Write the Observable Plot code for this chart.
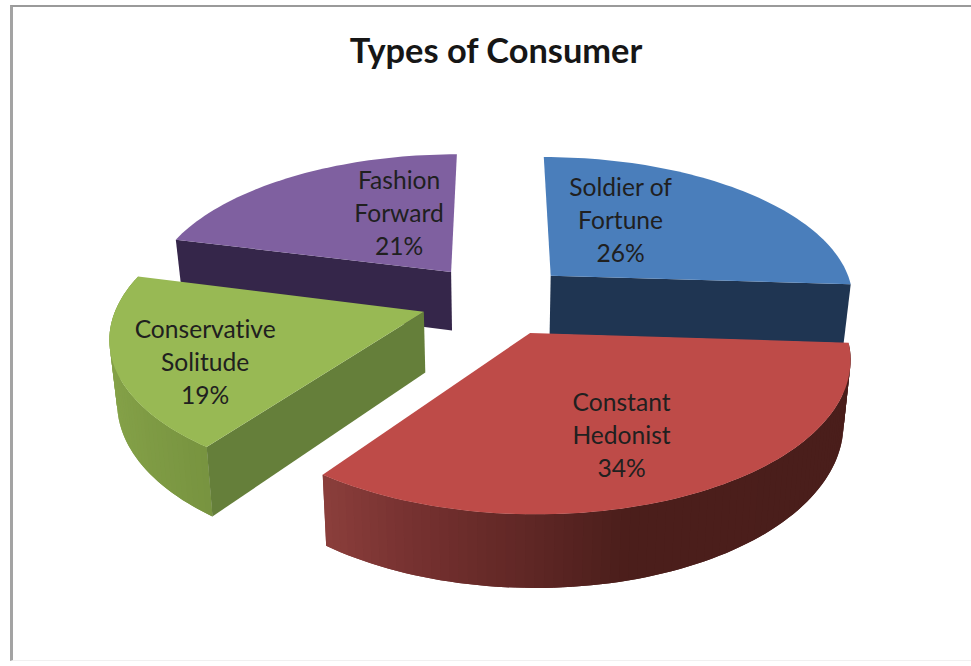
<!DOCTYPE html>
<html>
<head>
<meta charset="utf-8">
<script src="https://cdn.jsdelivr.net/npm/d3@7"></script>
<script src="https://cdn.jsdelivr.net/npm/@observablehq/plot@0.6"></script>
<style>
  html, body { margin: 0; padding: 0; background: #fff; overflow: hidden; }
  #page { position: relative; width: 971px; height: 666px; font-variant-ligatures: none; }
  #frame { position: absolute; left: 10px; top: 5px; right: 0; bottom: 5px;
           border-left: 3px solid #a3a3a3; border-top: 2px solid #9a9a9a; border-bottom: 1px solid #f0f0f0; }
  h1 { position: relative; margin: 0; height: 80px; padding-left: 21px; box-sizing: border-box; text-align: center;
       font: bold 34.4px/100px Lato, sans-serif; color: #161616; }
  #chart { position: relative; }
  #chart svg { display: block; font-variant-ligatures: none; }
</style>
</head>
<body>
<div id="page">
  <div id="frame"></div>
  <h1>Types of Consumer</h1>
  <div id="chart"></div>
</div>
<script>
// Share of each consumer type, in percent, clockwise from twelve o'clock.
const categories = ["Soldier of\nFortune", "Constant\nHedonist", "Conservative\nSolitude", "Fashion\nForward"];
const shares = [26, 34, 19, 21];

// Flat tops and cut faces of the wedges.
const topColors = ["#4a7ebb", "#be4b48", "#98b954", "#7f60a0"];
const faceColors = ["#1f3552", "#4b1e1b", "#657f3a", "#35264a"];

// Camera and pie proportions: plane units map to pixels through the x and y scales.
const W = 971, H = 586, headerHeight = 80;
const centerX = 496, centerY = 299 - headerHeight;
const radiusX = 305, radiusY = 143;
const perspective = 0.15, explode = 0.25, depth = 0.42, taper = 0.02;

// Where each label sits inside its wedge: fraction of the radius and bearing in degrees.
const labelPlaces = [[0.508, 31], [0.652, 157.2], [0.737, 243.8], [0.507, 337]];

const rad = d => d * Math.PI / 180;
const dir = a => [Math.sin(rad(a)), -Math.cos(rad(a))];

// Project a point of the pie plane (u, v toward the viewer) at level z (0 top, 1 bottom).
function project(u, v, z = 0) {
  const s = 1 / (1 - perspective * v);
  return {px: u * s * (1 - taper * z), py: (v + depth * z) * s};
}

// Lay the wedges out around the circle.
let running = 0;
const wedges = shares.map((share, i) => {
  const a0 = running * 3.6;
  running += share;
  const a1 = running * 3.6;
  const [mu, mv] = dir((a0 + a1) / 2);
  return {i, a0, a1, ou: mu * explode, ov: mv * explode};
});

const rim = (w, a, z) => {
  const [u, v] = dir(a);
  return project(w.ou + u, w.ov + v, z);
};
const arcAngles = (a0, a1, step = 1.5) => {
  const n = Math.max(1, Math.round(Math.abs(a1 - a0) / step));
  return d3.range(n + 1).map(k => a0 + (a1 - a0) * k / n);
};

const facets = [];
const addFacet = (id, color, points) => points.forEach(p => facets.push({...p, id, color}));

// A radial cut face running from the apex to the rim.
function cutFace(w, a) {
  addFacet(`cut-${w.i}`, faceColors[w.i], [
    project(w.ou, w.ov, 0), rim(w, a, 0), rim(w, a, 1), project(w.ou, w.ov, 1)
  ]);
}

// The curved outer wall, drawn as strips shaded across the width of the pie.
// Each strip reaches under the next one so that no seam shows between them.
function wall(w, a0, a1, shade) {
  const angles = arcAngles(a0, a1);
  d3.pairs(angles).forEach(([p, q], k) => {
    const far = angles[Math.min(k + 2, angles.length - 1)];
    addFacet(`wall-${w.i}-${k}`, shade(Math.sin(rad((p + q) / 2))), [
      rim(w, p, 0), rim(w, q, 0), rim(w, far, 0), rim(w, far, 1), rim(w, q, 1), rim(w, p, 1)
    ]);
  });
}

function topFace(w) {
  addFacet(`top-${w.i}`, topColors[w.i], [
    project(w.ou, w.ov, 0),
    ...arcAngles(w.a0, w.a1).map(a => rim(w, a, 0))
  ]);
}

const redShade = d3.scaleLinear()
  .domain([-0.6, -0.33, 0.25, 1])
  .range(["#8c3f3c", "#763130", "#4b1e1b", "#4a1e1b"]);
const greenShade = d3.scaleLinear()
  .domain([-1, -0.6])
  .range(["#86a349", "#789440"]);

const [blue, red, green, purple] = wedges;

// Painted from the back of the pie to the front.
cutFace(purple, purple.a0);
topFace(purple);
cutFace(blue, blue.a1);
topFace(blue);
wall(green, green.a1, green.a0, greenShade);
cutFace(green, green.a0);
topFace(green);
wall(red, red.a0, red.a1, redShade);
topFace(red);

const labels = wedges.map(w => {
  const [frac, bearing] = labelPlaces[w.i];
  const [u, v] = dir(bearing);
  return {...project(w.ou + u * frac, w.ov + v * frac), text: `${categories[w.i]}\n${shares[w.i]}%`};
});

const chart = Plot.plot({
  width: W,
  height: H,
  margin: 0,
  x: {axis: null, domain: [-centerX / radiusX, (W - centerX) / radiusX], range: [0, W]},
  y: {axis: null, domain: [-centerY / radiusY, (H - centerY) / radiusY], range: [0, H]},
  color: {type: "identity"},
  style: {background: "transparent"},
  marks: [
    Plot.line(facets, {x: "px", y: "py", z: "id", fill: "color", stroke: "none", curve: "linear-closed"}),
    Plot.text(labels, {x: "px", y: "py", text: "text", dy: -1.5, fontSize: 24.6, lineHeight: 1.34, fill: "#20201f", fontFamily: "Lato, sans-serif"})
  ]
});
document.getElementById("chart").append(chart);
</script>
</body>
</html>
